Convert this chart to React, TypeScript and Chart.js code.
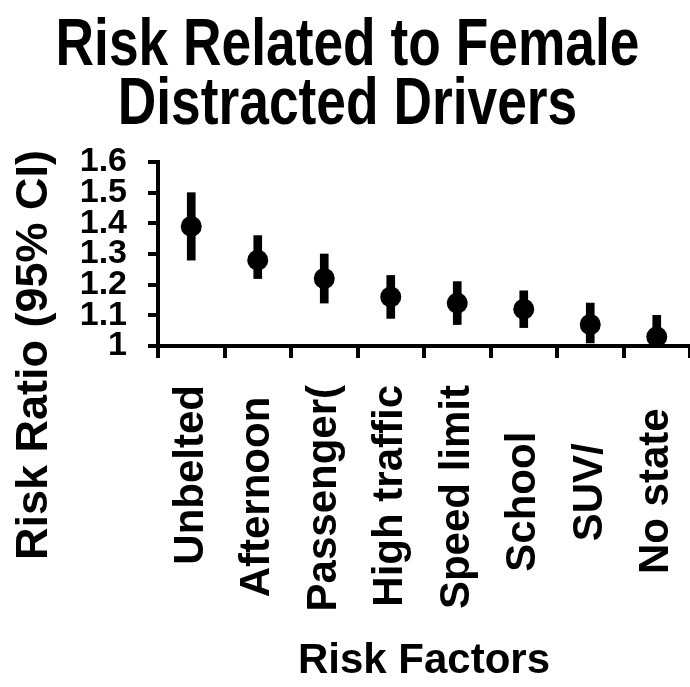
import React, { useEffect, useRef } from 'react';
import { Chart, registerables } from 'chart.js';

Chart.register(...registerables);

// ---- data ----
const categories = ['Unbelted', 'Afternoon', 'Passenger(', 'High traffic', 'Speed limit', 'School', 'SUV/', 'No state'];
const riskRatio = [1.39, 1.28, 1.22, 1.16, 1.14, 1.12, 1.07, 1.03];
const ciLower = [1.28, 1.22, 1.14, 1.09, 1.07, 1.06, 1.01, 0.97];
const ciUpper = [1.5, 1.36, 1.3, 1.23, 1.21, 1.18, 1.14, 1.1];
const yTickLabels = ['1', '1.1', '1.2', '1.3', '1.4', '1.5', '1.6'];
const titleLines = ['Risk Related to Female', 'Distracted Drivers'];
const xTitle = 'Risk Factors';
const yTitle = 'Risk Ratio (95% CI)';
// trailing-space counts used to place each rotated label like the original
const labelShift = [0, 1, 0, 0, 0, 4, 5, 2];

const BASE_FONT = "'Liberation Sans', Arial, Helvetica, sans-serif";

// Title drawn condensed horizontally, as in the original figure
const titlePlugin = {
  id: 'condensedTitle',
  afterDraw(chart: any) {
    const ctx = chart.ctx;
    ctx.save();
    ctx.font = `bold 67px ${BASE_FONT}`;
    ctx.fillStyle = '#000';
    ctx.textAlign = 'center';
    ctx.textBaseline = 'alphabetic';
    titleLines.forEach((line, i) => {
      ctx.save();
      ctx.translate(347.5, 65 + i * 59);
      ctx.scale(0.796, 1);
      ctx.fillText(line, 0, 0);
      ctx.restore();
    });
    ctx.restore();
  },
};

const yTitlePlugin = {
  id: 'yTitleLeft',
  afterDraw(chart: any) {
    const ctx = chart.ctx;
    const area = chart.chartArea;
    ctx.save();
    ctx.font = `bold 45px ${BASE_FONT}`;
    ctx.fillStyle = '#000';
    ctx.textAlign = 'center';
    ctx.textBaseline = 'middle';
    ctx.translate(area.left - 123, area.bottom + 9);
    ctx.rotate(-Math.PI / 2);
    ctx.fillText(yTitle, 0, 0);
    ctx.restore();
  },
};

export default function App() {
  const canvasRef = useRef<HTMLCanvasElement | null>(null);

  useEffect(() => {
    if (!canvasRef.current) return;
    const ciBars = ciLower.map((lo, i) => [lo, ciUpper[i]]);
    const chart = new Chart(canvasRef.current, {
      type: 'bar',
      data: {
        labels: categories,
        datasets: [
          {
            type: 'line',
            label: 'Risk ratio',
            data: riskRatio,
            showLine: false,
            pointRadius: 10.5,
            pointHoverRadius: 10.5,
            pointBackgroundColor: '#000',
            pointBorderColor: '#000',
            pointBorderWidth: 0,
            order: 0,
          } as any,
          {
            type: 'bar',
            label: '95% CI',
            data: ciBars as any,
            backgroundColor: '#000',
            borderWidth: 0,
            barThickness: 8,
            order: 1,
          } as any,
        ],
      },
      options: {
        animation: false,
        responsive: true,
        maintainAspectRatio: false,
        layout: { autoPadding: false, padding: { left: 0, right: -3, top: 162, bottom: 0 } },
        plugins: {
          legend: { display: false },
          tooltip: { enabled: false },
          title: { display: false },
        },
        scales: {
          x: {
            type: 'category',
            offset: true,
            afterFit(scale: any) {
              scale.height = 341;
              scale.paddingLeft = 0;
              scale.paddingRight = 0;
            },
            grid: {
              display: true,
              offset: true,
              drawOnChartArea: false,
              drawTicks: true,
              tickLength: 12,
              lineWidth: 4,
              color: '#000',
            },
            border: { display: true, width: 4, color: '#000' },
            ticks: {
              autoSkip: false,
              minRotation: 90,
              maxRotation: 90,
              padding: 27,
              color: '#000',
              font: { family: BASE_FONT, size: 42, weight: 'bold' },
              callback: (_v: any, i: number) => categories[i] + ' '.repeat(labelShift[i]),
            },
            title: {
              display: true,
              text: xTitle,
              color: '#000',
              font: { family: BASE_FONT, size: 42, weight: 'bold' },
              padding: { top: 0, bottom: 0 },
            },
          },
          y: {
            min: 1,
            max: 1.6,
            afterFit(scale: any) {
              scale.width = 158;
              scale.paddingTop = 0;
              scale.paddingBottom = 0;
            },
            grid: {
              display: true,
              drawOnChartArea: false,
              drawTicks: true,
              tickLength: 10,
              lineWidth: 4,
              color: '#000',
            },
            border: { display: true, width: 4, color: '#000' },
            ticks: {
              stepSize: 0.1,
              autoSkip: false,
              padding: 21,
              color: '#000',
              font: { family: BASE_FONT, size: 34, weight: 'bold' },
              callback: (_v: any, i: number) => yTickLabels[i],
            },
          },
        },
      },
      plugins: [titlePlugin, yTitlePlugin],
    });
    return () => chart.destroy();
  }, []);

  return (
    <div style={{ position: 'absolute', left: 0, top: 0, width: 690, height: 687, background: '#fff' }}>
      <canvas ref={canvasRef} />
    </div>
  );
}
